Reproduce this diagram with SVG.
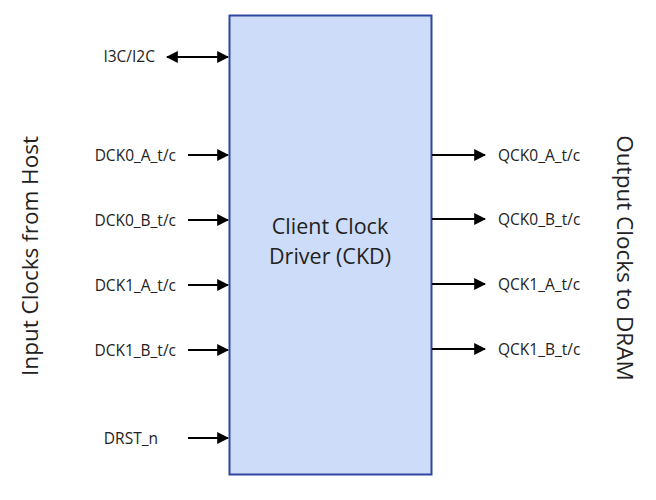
<svg xmlns="http://www.w3.org/2000/svg" width="656" height="500" viewBox="0 0 656 500">
<style>
text{font-family:"Open Sans","Liberation Sans",sans-serif;fill:#222}
.l{font-size:15.5px;text-anchor:end}
.r{font-size:15.5px}
.c{stroke:#000;stroke-width:2;fill:none}
</style>
<defs>
<marker id="ah" viewBox="0 0 10 10" refX="9" refY="5" markerWidth="6" markerHeight="6" orient="auto-start-reverse"><path d="M0,0L10,5L0,10z" fill="#000"/></marker>
</defs>
<rect x="0" y="0" width="656" height="500" fill="#fff"/>
<g id="ckd">
<rect x="229.5" y="15.5" width="202" height="459" fill="#cddcf8" stroke="#2f46a0" stroke-width="2"/>
<text x="330" y="234" font-size="21.5" text-anchor="middle">Client Clock</text>
<text x="330" y="264" font-size="21.5" text-anchor="middle">Driver (CKD)</text>
</g>
<g id="connectors">
<line class="c" x1="167" y1="57" x2="228" y2="57" marker-start="url(#ah)" marker-end="url(#ah)"/>
<line class="c" x1="188" y1="155" x2="228" y2="155" marker-end="url(#ah)"/>
<line class="c" x1="188" y1="220" x2="228" y2="220" marker-end="url(#ah)"/>
<line class="c" x1="188" y1="285" x2="228" y2="285" marker-end="url(#ah)"/>
<line class="c" x1="188" y1="350" x2="228" y2="350" marker-end="url(#ah)"/>
<line class="c" x1="188" y1="438" x2="228" y2="438" marker-end="url(#ah)"/>
<line class="c" x1="432" y1="155" x2="485" y2="155" marker-end="url(#ah)"/>
<line class="c" x1="432" y1="219" x2="485" y2="219" marker-end="url(#ah)"/>
<line class="c" x1="432" y1="284" x2="485" y2="284" marker-end="url(#ah)"/>
<line class="c" x1="432" y1="349" x2="485" y2="349" marker-end="url(#ah)"/>
</g>
<g id="labels">
<text class="l" x="155" y="62">I3C/I2C</text>
<text class="l" x="176" y="161">DCK0_A_t/c</text>
<text class="l" x="176" y="226">DCK0_B_t/c</text>
<text class="l" x="176" y="291">DCK1_A_t/c</text>
<text class="l" x="176" y="356">DCK1_B_t/c</text>
<text class="l" x="158" y="444">DRST_n</text>
<text class="r" x="498" y="161">QCK0_A_t/c</text>
<text class="r" x="498" y="225">QCK0_B_t/c</text>
<text class="r" x="498" y="290">QCK1_A_t/c</text>
<text class="r" x="498" y="355">QCK1_B_t/c</text>
<text font-size="22.5" text-anchor="middle" transform="translate(38,256) rotate(-90)">Input Clocks from Host</text>
<text font-size="22.5" text-anchor="middle" transform="translate(617,258) rotate(90)">Output Clocks to DRAM</text>
</g>
</svg>
